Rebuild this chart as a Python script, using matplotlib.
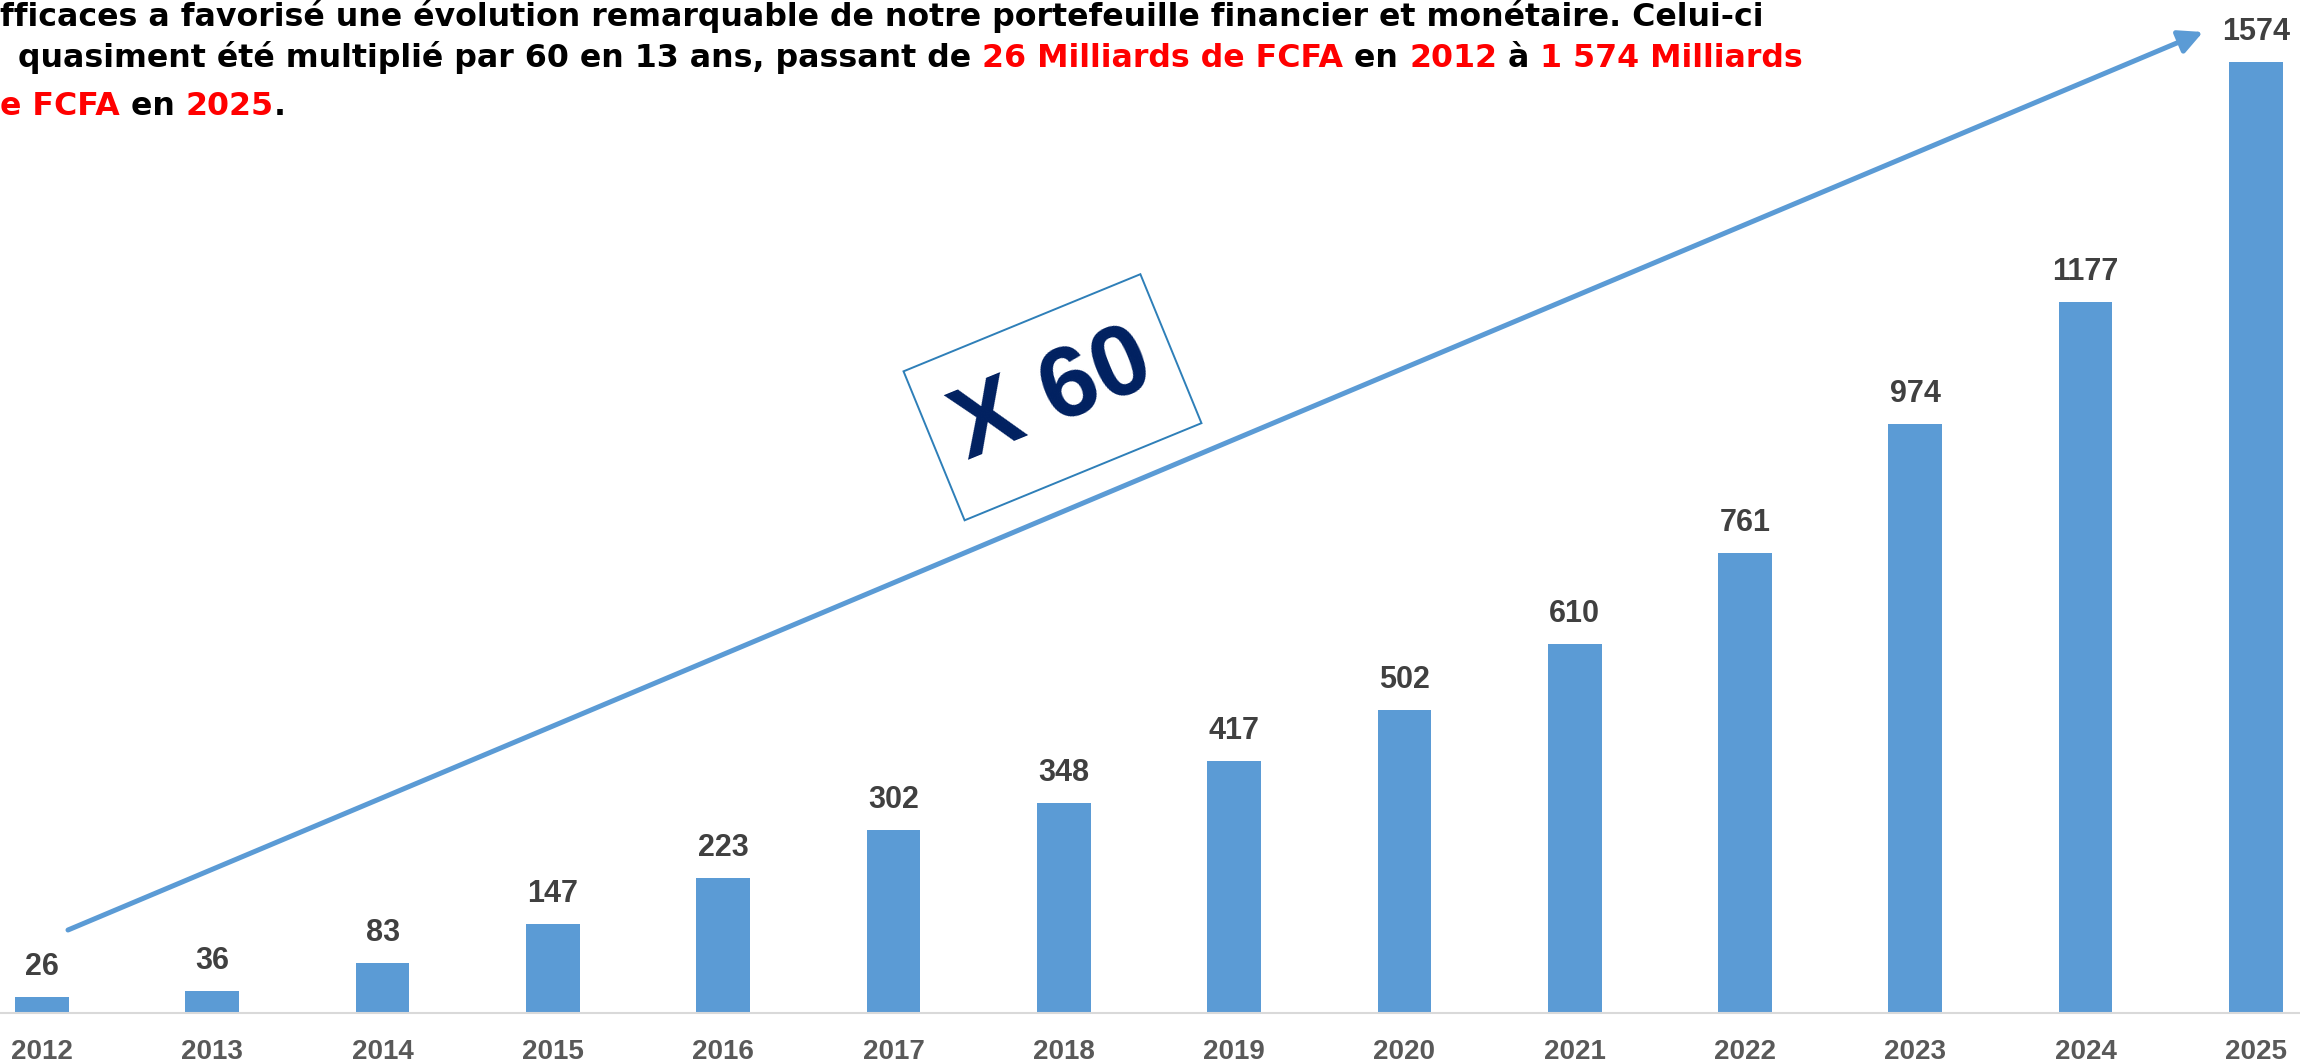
import numpy as np
import matplotlib.pyplot as plt
import matplotlib.patches as mpatches
from matplotlib.transforms import IdentityTransform

years = ['2012', '2013', '2014', '2015', '2016', '2017', '2018',
         '2019', '2020', '2021', '2022', '2023', '2024', '2025']
values = [26, 36, 83, 147, 223, 302, 348, 417, 502, 610, 761, 974, 1177, 1574]

# texte d'en-tête (coupé à gauche dans l'original), segments (texte, couleur)
header = [
    [("fficaces a favorisé une évolution remarquable de notre portefeuille financier et monétaire. Celui-ci", 'black')],
    [("quasiment été multiplié par 60 en 13 ans, passant de ", 'black'),
     ("26 Milliards de FCFA", '#ff0000'), (" en ", 'black'), ("2012", '#ff0000'),
     (" à ", 'black'), ("1 574 Milliards", '#ff0000')],
    [("e FCFA", '#ff0000'), (" en ", 'black'), ("2025", '#ff0000'), (".", 'black')],
]
badge = "X 60"

W, H = 2300, 1061
blue = '#5b9bd5'
lab_font = 'Liberation Sans'

fig = plt.figure(figsize=(W / 100, H / 100), dpi=100)
ax = fig.add_axes([0, 48 / H, 1, 1013 / H])

x = np.arange(len(years))
ax.bar(x, values, width=0.315, color=blue, zorder=2)
ax.set_xlim(-0.2466, 13.259)
ax.set_ylim(0, 1676)
for s in ['top', 'right', 'left']:
    ax.spines[s].set_visible(False)
ax.spines['bottom'].set_color('#d9d9d9')
ax.spines['bottom'].set_linewidth(1.5)
ax.set_yticks([])
ax.set_xticks(x, years)
ax.tick_params(axis='x', length=0, pad=18.5, labelsize=20, labelcolor='#595959')
for lab in ax.get_xticklabels():
    lab.set_fontweight('bold')
    lab.set_family(lab_font)

for xi, v in zip(x, values):
    ax.annotate(str(v), (xi, v), xytext=(0, 21.6), textcoords='offset points',
                ha='center', va='center', fontsize=22, fontweight='bold',
                family=lab_font, color='#404040')

# flèche de croissance
ax.annotate('', xy=(2203, H - 32), xytext=(68, H - 930),
            xycoords='figure pixels', textcoords='figure pixels',
            arrowprops=dict(arrowstyle='-|>', lw=3.6, color=blue,
                            mutation_scale=36, shrinkA=0, shrinkB=0))

# cadre "X 60"
cx, cy = 1052.5 / 100, (H - 397.25) / 100
bw, bh = 2.56, 1.61
rect = mpatches.Rectangle((cx - bw / 2, cy - bh / 2), bw, bh, angle=22.3,
                          rotation_point='center', transform=fig.dpi_scale_trans,
                          facecolor='white', edgecolor='#2e7fb8', lw=1.4, zorder=5)
fig.patches.append(rect)
fig.text(cx, cy, badge, transform=fig.dpi_scale_trans, rotation=22.3,
         rotation_mode='anchor', ha='center', va='center', fontsize=72,
         fontweight='bold', family=lab_font, color='#002060', zorder=6)

# en-tête multicolore
renderer = fig.canvas.get_renderer()
hkw = dict(fontweight='bold', family='DejaVu Sans')


def adv(s, size):
    t = fig.text(0, 0, s + '|', fontsize=size, **hkw)
    w1 = t.get_window_extent(renderer).width
    t.set_text('|')
    w2 = t.get_window_extent(renderer).width
    t.remove()
    return w1 - w2


line2 = ''.join(s for s, c in header[1])
size = 20 * 1788 / adv(line2, 20)

starts = [0, 18, 0]
baselines = [26, 67, 115]
for segs, x0, yb in zip(header, starts, baselines):
    prefix = ''
    for s, c in segs:
        fig.text(x0 + adv(prefix, size), H - yb, s, transform=IdentityTransform(),
                 va='baseline', ha='left', fontsize=size, color=c, **hkw)
        prefix += s

fig.savefig('out.png', dpi=100)
